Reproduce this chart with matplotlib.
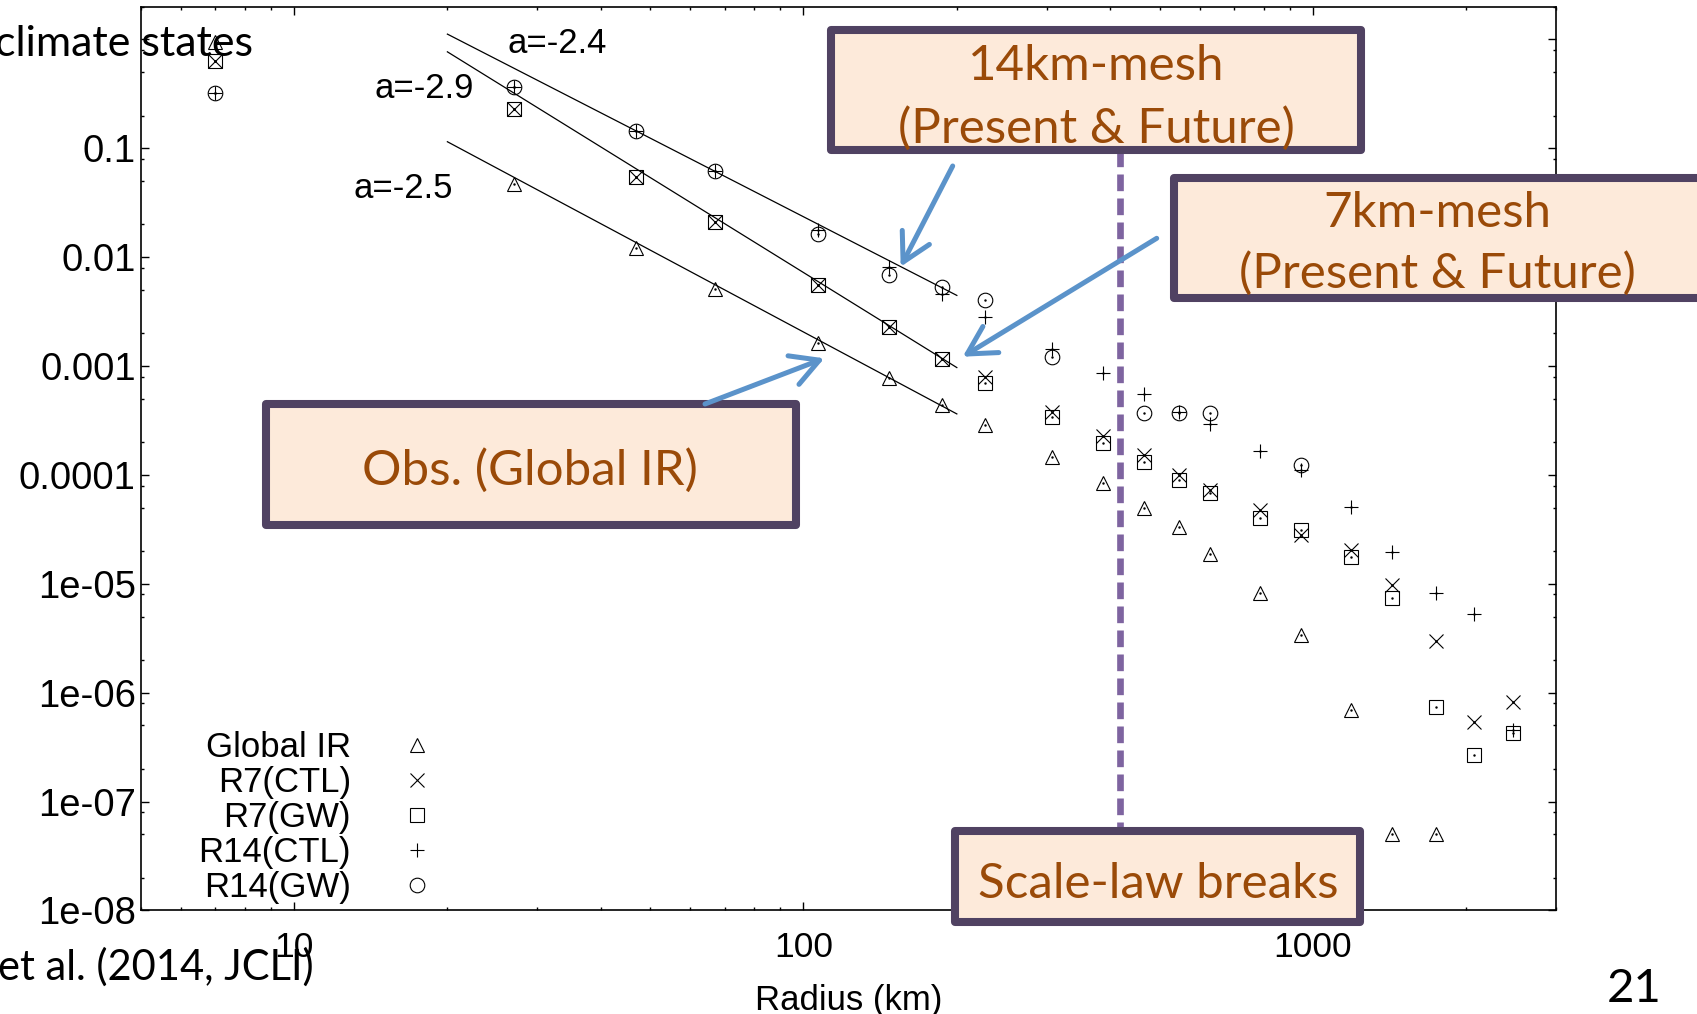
import numpy as np
import matplotlib
matplotlib.use('Agg')
import matplotlib.pyplot as plt
from matplotlib.patches import Rectangle, FancyArrowPatch
from matplotlib.ticker import FixedLocator, LogLocator, NullFormatter

nan = np.nan

# bin radius (km)
radius = [7, 27, 47, 67, 107, 147, 187, 227, 307, 387, 467, 547, 627, 787, 947,
          1187, 1427, 1747, 2067, 2467]
global_ir = [0.95, 0.047, 0.0121, 0.0051, 0.00164, 0.00077, 0.00044, 0.00029, 0.000147,
             8.5e-5, 5.0e-5, 3.3e-5, 1.88e-5, 8.2e-6, 3.4e-6, 6.9e-7, 5.0e-8, 5.0e-8, nan, nan]
r7_ctl = [0.64, 0.232, 0.0546, 0.021, 0.0055, 0.0023, 0.00117, 0.00079, 0.000375,
          0.000228, 0.000152, 0.0001, 7.3e-5, 4.8e-5, 2.8e-5, 2.05e-5, 9.8e-6, 3.0e-6, 5.35e-7, 8.2e-7]
r7_gw = [0.64, 0.232, 0.0546, 0.021, 0.0055, 0.0023, 0.00117, 0.0007, 0.00034,
         0.000198, 0.000131, 9.0e-5, 6.8e-5, 4.0e-5, 3.1e-5, 1.76e-5, 7.4e-6, 7.4e-7, 2.66e-7, 4.27e-7]
r14_ctl = [0.32, 0.363, 0.144, 0.0615, 0.0177, 0.00815, 0.00458, 0.00283, 0.00145,
           0.00086, 0.00055, 0.00038, 0.000294, 0.000167, 0.000111, 5.05e-5, 1.95e-5, 8.2e-6, 5.3e-6, 4.57e-7]
r14_gw = [0.32, 0.363, 0.144, 0.0615, 0.0163, 0.00684, 0.00534, 0.00403, 0.00122,
          nan, 0.000368, 0.000368, 0.000368, nan, 0.000124, nan, nan, nan, nan, nan]

series = [global_ir, r7_ctl, r7_gw, r14_ctl, r14_gw]
names = ['Global IR', 'R7(CTL)', 'R7(GW)', 'R14(CTL)', 'R14(GW)']
markers = ['^', 'x', 's', '+', 'o']

# power-law fits  y = amp * (r/20)^slope  over 20-200 km
fit_range = [20, 200]
fit_slopes = [-2.4, -2.9, -2.5]
fit_amps = [1.12, 0.77, 0.115]
fit_labels = ['a=-2.4', 'a=-2.9', 'a=-2.5']
fit_label_pos = [(32.8, 0.92), (18.0, 0.355), (16.4, 0.043)]

yticks = [1, 0.1, 0.01, 0.001, 0.0001, 1e-5, 1e-6, 1e-7, 1e-8]
yticklabels = ['', '0.1', '0.01', '0.001', '0.0001', '1e-05', '1e-06', '1e-07', '1e-08']
xticks = [10, 100, 1000]
xticklabels = ['10', '100', '1000']

W, H = 1697, 1014
fig = plt.figure(figsize=(W / 100, H / 100), dpi=100)
ax = fig.add_axes([0.0829, 0.1021, 0.834, 0.8913])

gp_font = 'Liberation Sans'
slide_font = ['Lato', 'DejaVu Sans']

for vals, name, m in zip(series, names, markers):
  ax.plot(radius, vals, ls='none', marker=m, ms=10.5, mfc='none', mec='black',
          mew=0.8, label=name)
  ax.plot(radius, vals, ls='none', marker='.', ms=1.5, color='black')

r = np.array(fit_range, dtype=float)
for amp, slope, lab, pos in zip(fit_amps, fit_slopes, fit_labels, fit_label_pos):
  ax.plot(r, amp * (r / 20.0) ** slope, color='black', lw=0.9)
  ax.text(pos[0], pos[1], lab, ha='center', va='center', fontsize=25, family=gp_font)

ax.set_xscale('log')
ax.set_yscale('log')
ax.set_xlim(5, 3000)
ax.set_ylim(1e-8, 2)
ax.yaxis.set_major_locator(FixedLocator(yticks))
ax.set_yticklabels(yticklabels)
ax.yaxis.set_minor_locator(LogLocator(subs=(2, 5, 8), numticks=20))
ax.yaxis.set_minor_formatter(NullFormatter())
ax.xaxis.set_major_locator(FixedLocator(xticks))
ax.set_xticklabels(xticklabels)
ax.xaxis.set_minor_locator(LogLocator(subs=range(2, 10), numticks=20))
ax.xaxis.set_minor_formatter(NullFormatter())
ax.tick_params(which='both', direction='in', top=True, right=True, width=1.0)
ax.tick_params(which='major', length=5.5)
ax.tick_params(which='minor', length=2.5)
ax.tick_params(axis='y', pad=3.5)
ax.tick_params(axis='x', pad=15)
for t in ax.get_xticklabels():
  t.set_fontsize(25.5)
  t.set_family(gp_font)
for t in ax.get_yticklabels():
  t.set_fontsize(27.5)
  t.set_family(gp_font)
for s in ax.spines.values():
  s.set_linewidth(1.2)
ax.set_xlabel('Radius (km)', fontsize=25, family=gp_font, labelpad=14)

leg = ax.legend(markerfirst=False, frameon=False, loc='lower right',
                bbox_to_anchor=(0.264, 0.108), bbox_transform=fig.transFigure,
                prop={'family': gp_font, 'size': 25}, handlelength=1.8,
                handletextpad=1.0, labelspacing=0.06, borderpad=0,
                borderaxespad=0, numpoints=1)


# slide overlay, positions in pixels of the slide
def fx(x):
  return x / W

def fy(y):
  return 1 - y / H

box_fill = '#FDEADA'
box_edge = '#504262'
box_text = '#9A4A08'
arrow_col = '#5B93CA'

# dashed divider
fig.add_artist(plt.Line2D([fx(1120), fx(1120)], [fy(150), fy(831)], color='#7E64A0',
                          lw=4.8, dashes=(2.5, 1.1), zorder=4))

boxes = [(831, 30, 1361, 150), (1174, 178, 1760, 298), (266, 404, 796, 525), (955, 831, 1360, 922)]
for x0, y0, x1, y1 in boxes:
  fig.add_artist(Rectangle((fx(x0), fy(y1)), fx(x1) - fx(x0), fy(y0) - fy(y1),
                           transform=fig.transFigure, facecolor=box_fill,
                           edgecolor=box_edge, lw=5.8, joinstyle='round', zorder=5))

box_lines = [('14km-mesh', 1096, 80), ('(Present & Future)', 1096, 143),
             ('7km-mesh', 1437, 227), ('(Present & Future)', 1437, 288),
             ('Obs. (Global IR)', 530, 485), ('Scale-law breaks', 1158, 898)]
for txt, x, y in box_lines:
  fig.text(fx(x), fy(y), txt, ha='center', va='baseline', color=box_text,
           fontsize=35.5, family=slide_font, zorder=7)

arrows = [((952.7, 166), (900.7, 266.7)), ((1156.7, 238.3), (962.7, 356.7)),
          ((705, 404), (824.3, 358.3))]
for (x0, y0), (x1, y1) in arrows:
  fig.add_artist(FancyArrowPatch((fx(x0), fy(y0)), (fx(x1), fy(y1)),
                                 transform=fig.transFigure,
                                 arrowstyle='->,head_length=1.0,head_width=0.55',
                                 mutation_scale=20, lw=3.6, color=arrow_col,
                                 capstyle='round', joinstyle='round',
                                 shrinkA=0, shrinkB=0, zorder=6))

fig.text(fx(253), fy(56), 'climate states', ha='right', va='baseline', fontsize=31,
         family=slide_font, zorder=7)
fig.text(fx(314), fy(980), 'et al. (2014, JCLI)', ha='right', va='baseline', fontsize=30,
         family=slide_font, zorder=7)
fig.text(fx(1634), fy(1002), '21', ha='center', va='baseline', fontsize=34,
         family=slide_font, zorder=7)

fig.savefig('out.png', dpi=100)
